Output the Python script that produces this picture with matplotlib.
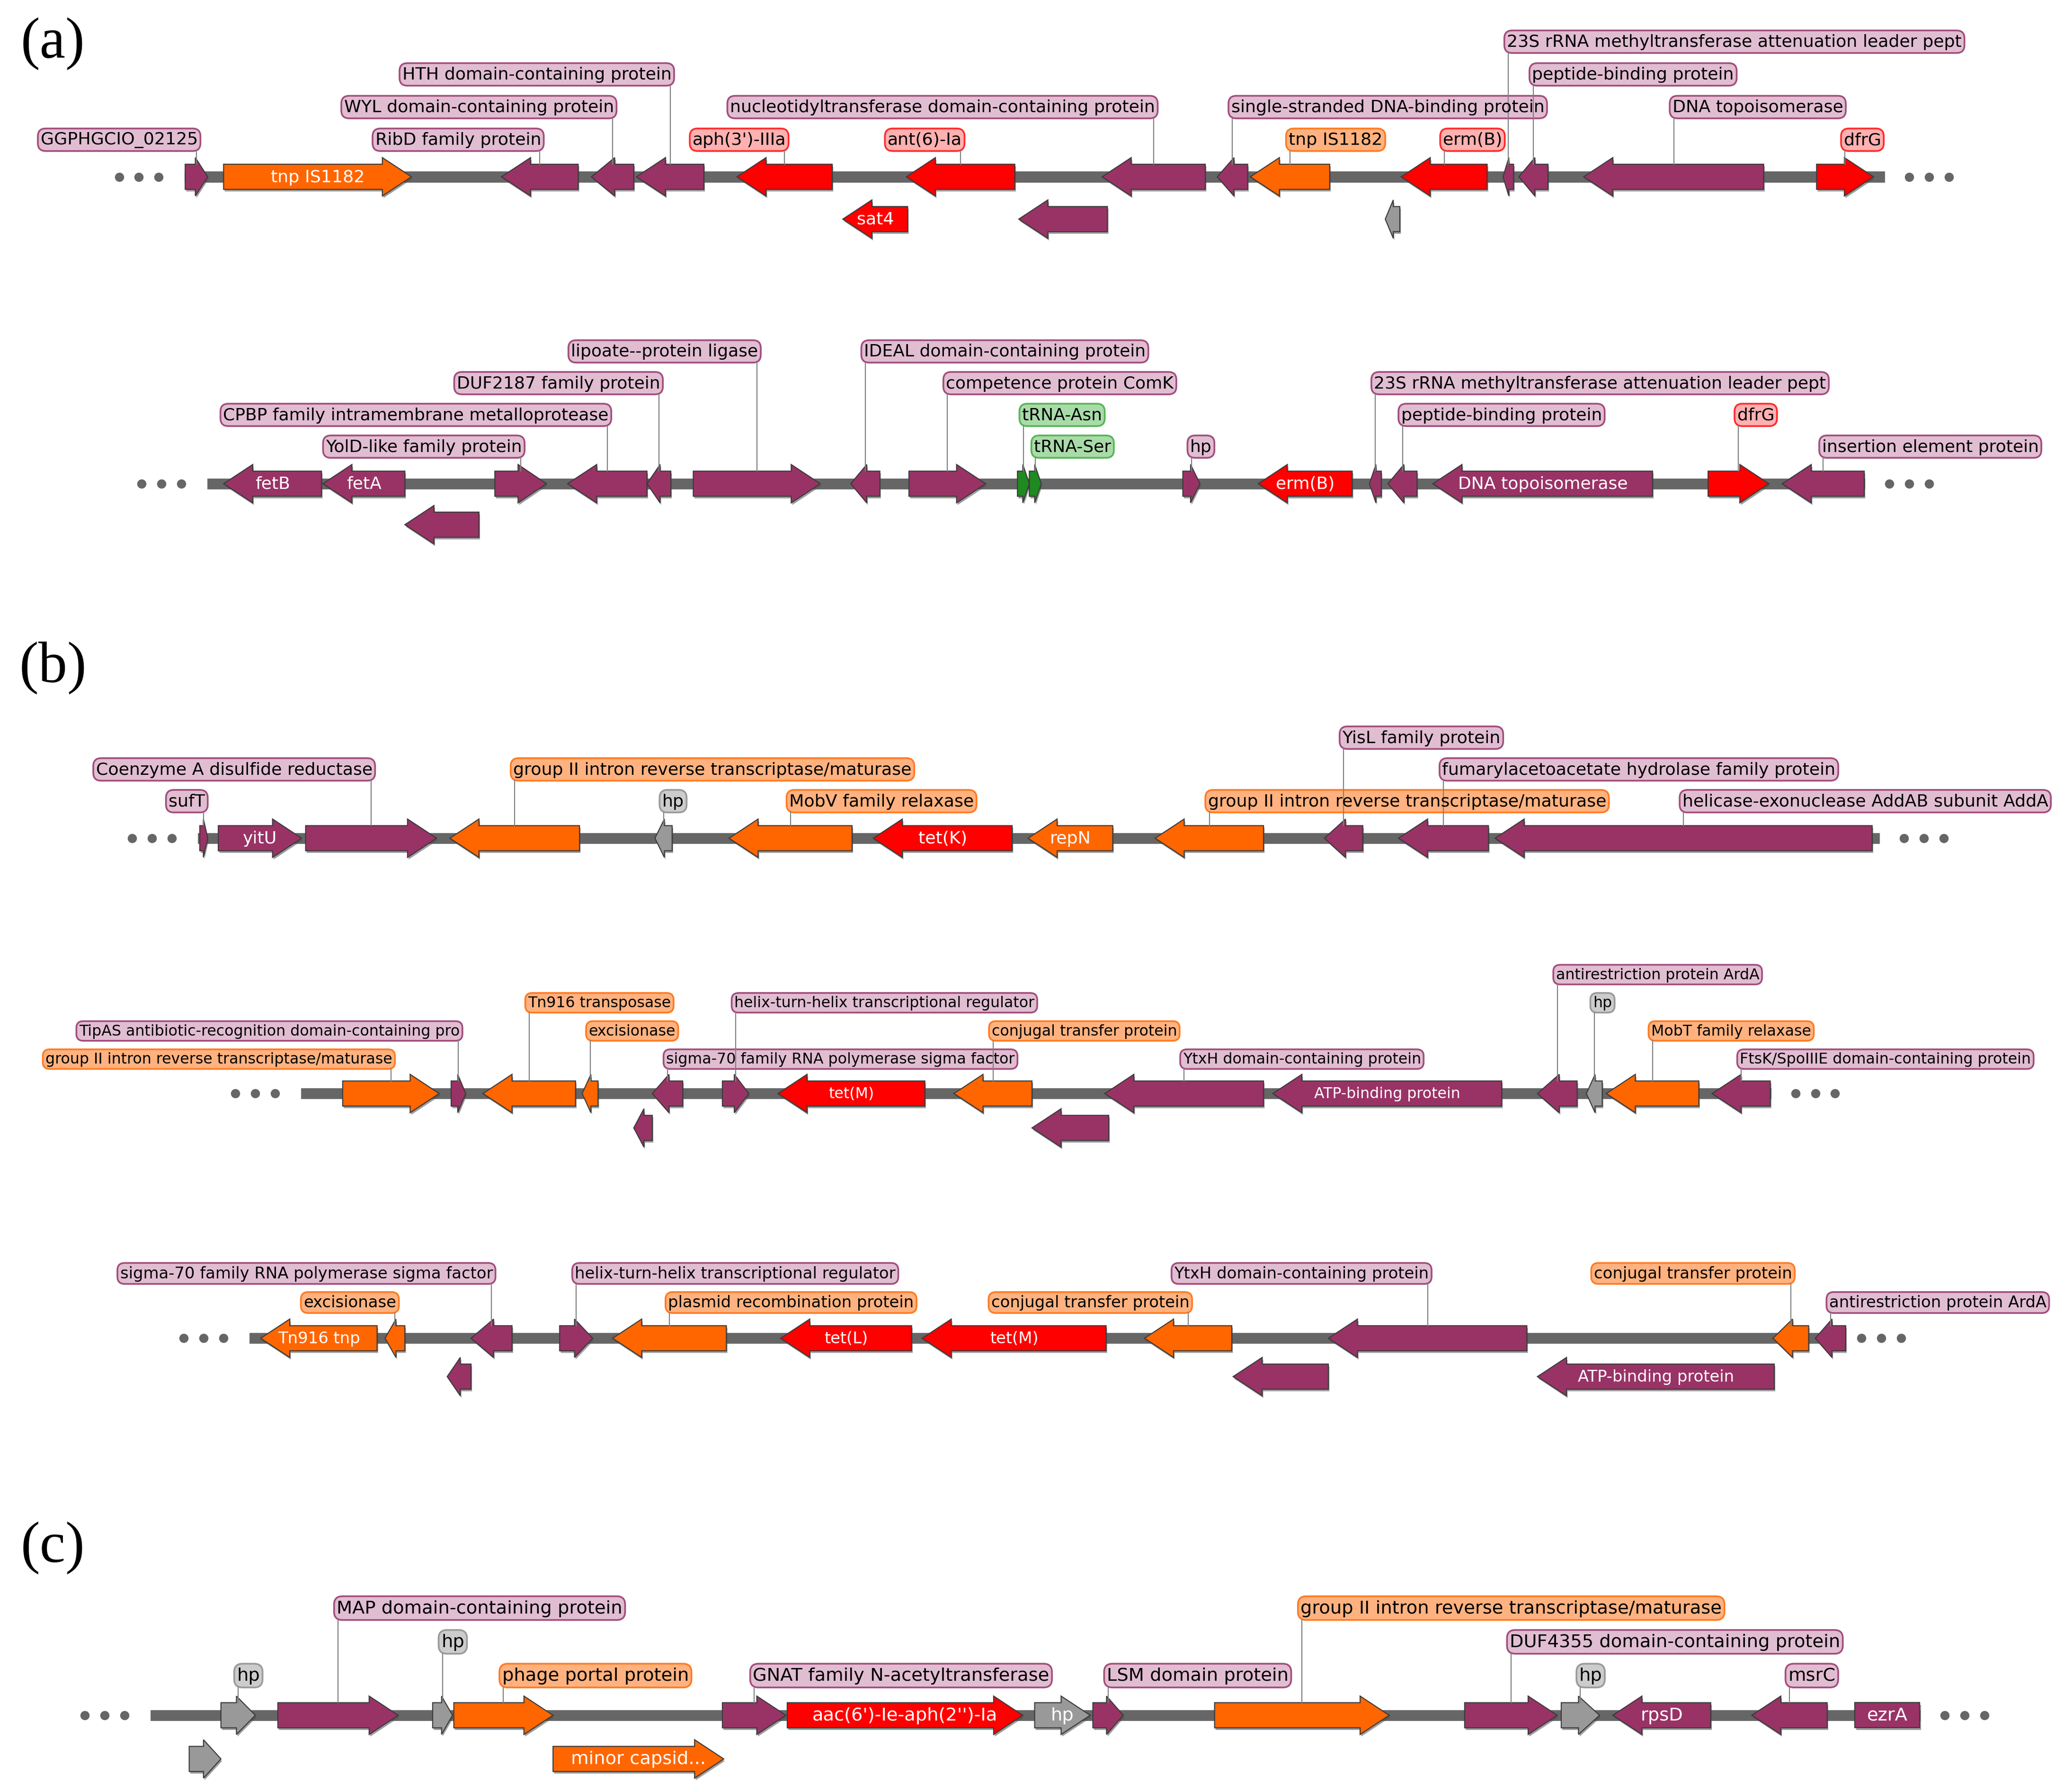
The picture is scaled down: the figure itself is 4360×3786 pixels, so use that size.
import matplotlib
matplotlib.use("Agg")
import matplotlib.pyplot as plt
from matplotlib.patches import Polygon, Rectangle, FancyBboxPatch

W, H = 1560, 1355  # drawing units across / down the page

GENE_COLOR = {"p": "#993366", "r": "#ff0000", "o": "#ff6600", "g": "#999999", "t": "#1f8a1f"}
TAG_FILL = {"p": "#e1bdd2", "r": "#ffb0b0", "o": "#ffb27f", "g": "#cccccc", "t": "#a9dba9"}
TAG_EDGE = {"p": "#a24d7c", "r": "#ff2a2a", "o": "#ff7a22", "g": "#9a9a9a", "t": "#55b555"}

# ---------- (a) upper locus
a1_locus = (140, 1424)
a1_start = [140, 169, 379, 447, 481, 557, 685, 637, 770, 833, 920, 945, 1047, 1059, 1136, 1148, 1197, 1373]
a1_end = [157, 311, 437, 479, 532, 629, 767, 686, 837, 911, 943, 1005, 1058, 1124, 1144, 1170, 1333, 1416]
a1_strand = [1, 1, -1, -1, -1, -1, -1, -1, -1, -1, -1, -1, -1, -1, -1, -1, -1, 1]
a1_kind = ["p", "o", "p", "p", "p", "r", "r", "r", "p", "p", "p", "o", "g", "r", "p", "p", "p", "r"]
a1_name = ["", "tnp IS1182", "", "", "", "", "", "sat4", "", "", "", "", "", "", "", "", "", ""]
a1_tag = ["GGPHGCIO_02125", "", "RibD family protein", "WYL domain-containing protein",
          "HTH domain-containing protein", "aph(3')-IIIa", "ant(6)-Ia", "", "",
          "nucleotidyltransferase domain-containing protein", "single-stranded DNA-binding protein",
          "tnp IS1182", "", "erm(B)", "23S rRNA methyltransferase attenuation leader pept",
          "peptide-binding protein", "DNA topoisomerase", "dfrG"]
a1_lane = [0, 0, 0, 0, 0, 0, 0, 1, 1, 0, 0, 0, 1, 0, 0, 0, 0, 0]
a1_tier = [0, 0, 0, 1, 2, 0, 0, 0, 0, 1, 1, 0, 0, 0, 3, 2, 1, 0]
a1_side = ["r", "", "r", "r", "r", "r", "r", "", "", "r", "l", "l", "", "l", "l", "l", "l", "l"]

# ---------- (a) lower locus
a2_locus = (157, 1409)
a2_start = [169, 244, 306, 374, 429, 489, 524, 643, 687, 769, 778, 894, 951, 1035, 1049, 1083, 1291, 1347]
a2_end = [243, 306, 362, 413, 489, 507, 620, 665, 745, 778, 787, 907, 1022, 1044, 1071, 1249, 1337, 1409]
a2_strand = [-1, -1, -1, 1, -1, -1, 1, -1, 1, 1, 1, 1, -1, -1, -1, -1, 1, -1]
a2_kind = ["p", "p", "p", "p", "p", "p", "p", "p", "p", "t", "t", "p", "r", "p", "p", "p", "r", "p"]
a2_name = ["fetB", "fetA", "", "", "", "", "", "", "", "", "", "", "erm(B)", "", "",
           "DNA topoisomerase", "", ""]
a2_tag = ["", "", "", "YolD-like family protein", "CPBP family intramembrane metalloprotease",
          "DUF2187 family protein", "lipoate--protein ligase", "IDEAL domain-containing protein",
          "competence protein ComK", "tRNA-Asn", "tRNA-Ser", "hp", "",
          "23S rRNA methyltransferase attenuation leader pept", "peptide-binding protein", "",
          "dfrG", "insertion element protein"]
a2_lane = [0, 0, 1, 0, 0, 0, 0, 0, 0, 0, 0, 0, 0, 0, 0, 0, 0, 0]
a2_tier = [0, 0, 0, 0, 1, 2, 3, 3, 2, 1, 0, 0, 0, 2, 1, 0, 1, 0]
a2_side = ["", "", "", "r", "r", "r", "r", "l", "l", "l", "l", "l", "", "l", "l", "", "l", "l"]

# ---------- (b) first locus
b1_locus = (150, 1420)
b1_start = [151, 165, 231, 340, 495, 551, 660, 777, 873, 1001, 1057, 1130]
b1_end = [157, 228, 330, 438, 508, 644, 765, 841, 955, 1030, 1125, 1415]
b1_strand = [1, 1, 1, -1, -1, -1, -1, -1, -1, -1, -1, -1]
b1_kind = ["p", "p", "p", "o", "g", "o", "r", "o", "o", "p", "p", "p"]
b1_name = ["", "yitU", "", "", "", "", "tet(K)", "repN", "", "", "", ""]
b1_tag = ["sufT", "", "Coenzyme A disulfide reductase", "group II intron reverse transcriptase/maturase",
          "hp", "MobV family relaxase", "", "", "group II intron reverse transcriptase/maturase",
          "YisL family protein", "fumarylacetoacetate hydrolase family protein",
          "helicase-exonuclease AddAB subunit AddA"]
b1_lane = [0] * 12
b1_tier = [0, 0, 1, 1, 0, 0, 0, 0, 0, 2, 1, 0]
b1_side = ["r", "", "r", "l", "l", "l", "", "", "l", "l", "l", "l"]

# ---------- (b) second locus
b2_locus = (228, 1338)
b2_start = [259, 341, 365, 440, 479, 493, 546, 588, 721, 780, 835, 962, 1162, 1199, 1214, 1294]
b2_end = [332, 352, 435, 452, 493, 516, 566, 699, 780, 838, 955, 1135, 1192, 1211, 1284, 1338]
b2_strand = [1, 1, -1, -1, -1, -1, 1, -1, -1, -1, -1, -1, -1, -1, -1, -1]
b2_kind = ["o", "p", "o", "o", "p", "p", "p", "r", "o", "p", "p", "p", "p", "g", "o", "p"]
b2_name = ["", "", "", "", "", "", "", "tet(M)", "", "", "", "ATP-binding protein", "", "", "", ""]
b2_tag = ["group II intron reverse transcriptase/maturase",
          "TipAS antibiotic-recognition domain-containing pro", "Tn916 transposase", "excisionase", "",
          "sigma-70 family RNA polymerase sigma factor", "helix-turn-helix transcriptional regulator", "",
          "conjugal transfer protein", "", "YtxH domain-containing protein", "",
          "antirestriction protein ArdA", "hp", "MobT family relaxase",
          "FtsK/SpoIIIE domain-containing protein"]
b2_lane = [0, 0, 0, 0, 1, 0, 0, 0, 0, 1, 0, 0, 0, 0, 0, 0]
b2_tier = [0, 1, 2, 1, 0, 0, 2, 0, 1, 0, 0, 0, 3, 2, 1, 0]
b2_side = ["r", "r", "l", "l", "", "l", "l", "", "l", "", "l", "", "l", "l", "l", "l"]

# ---------- (b) third locus
b3_locus = (189, 1388)
b3_start = [197, 291, 338, 356, 423, 463, 590, 697, 865, 932, 1004, 1162, 1340, 1372]
b3_end = [285, 306, 356, 387, 448, 549, 689, 836, 931, 1004, 1154, 1341, 1367, 1395]
b3_strand = [-1, -1, -1, -1, 1, -1, -1, -1, -1, -1, -1, -1, -1, -1]
b3_kind = ["o", "o", "p", "p", "p", "o", "r", "r", "o", "p", "p", "p", "o", "p"]
b3_name = ["Tn916 tnp", "", "", "", "", "", "tet(L)", "tet(M)", "", "", "", "ATP-binding protein", "", ""]
b3_tag = ["", "excisionase", "", "sigma-70 family RNA polymerase sigma factor",
          "helix-turn-helix transcriptional regulator", "plasmid recombination protein", "", "",
          "conjugal transfer protein", "", "YtxH domain-containing protein", "",
          "conjugal transfer protein", "antirestriction protein ArdA"]
b3_lane = [0, 0, 1, 0, 0, 0, 0, 0, 0, 1, 0, 1, 0, 0]
b3_tier = [0, 0, 0, 1, 1, 0, 0, 0, 0, 0, 1, 0, 1, 0]
b3_side = ["", "r", "", "r", "l", "l", "", "", "r", "", "r", "", "r", "l"]

# ---------- (c)
c_locus = (114, 1451)
c_start = [167, 143, 210, 327, 343, 418, 546, 595, 782, 826, 918, 1107, 1180, 1219, 1324, 1402]
c_end = [193, 167, 301, 342, 418, 547, 594, 773, 824, 849, 1050, 1177, 1209, 1293, 1381, 1451]
c_strand = [1, 1, 1, 1, 1, 1, 1, 1, 1, 1, 1, 1, 1, -1, -1, 0]
c_kind = ["g", "g", "p", "g", "o", "o", "p", "r", "g", "p", "o", "p", "g", "p", "p", "p"]
c_name = ["", "", "", "", "", "minor capsid...", "", "aac(6')-Ie-aph(2'')-Ia", "hp", "", "", "", "",
          "rpsD", "", "ezrA"]
c_tag = ["hp", "", "MAP domain-containing protein", "hp", "phage portal protein", "",
         "GNAT family N-acetyltransferase", "", "", "LSM domain protein",
         "group II intron reverse transcriptase/maturase", "DUF4355 domain-containing protein", "hp",
         "", "msrC", ""]
c_lane = [0, 1, 0, 0, 0, 1, 0, 0, 0, 0, 0, 0, 0, 0, 0, 0]
c_tier = [0, 0, 2, 1, 0, 0, 0, 0, 0, 0, 2, 1, 0, 0, 0, 0]
c_side = ["l"] * 16

rows = [
    dict(locus=a1_locus, start=a1_start, end=a1_end, strand=a1_strand, kind=a1_kind, name=a1_name,
         tag=a1_tag, lane=a1_lane, tier=a1_tier, side=a1_side, y=134, fs=13.1, t0=28, dt=24.7, low=32),
    dict(locus=a2_locus, start=a2_start, end=a2_end, strand=a2_strand, kind=a2_kind, name=a2_name,
         tag=a2_tag, lane=a2_lane, tier=a2_tier, side=a2_side, y=366, fs=13.0, t0=28, dt=24, low=31),
    dict(locus=b1_locus, start=b1_start, end=b1_end, strand=b1_strand, kind=b1_kind, name=b1_name,
         tag=b1_tag, lane=b1_lane, tier=b1_tier, side=b1_side, y=634, fs=13.1, t0=28, dt=24, low=30),
    dict(locus=b2_locus, start=b2_start, end=b2_end, strand=b2_strand, kind=b2_kind, name=b2_name,
         tag=b2_tag, lane=b2_lane, tier=b2_tier, side=b2_side, y=827, fs=11.4, t0=26, dt=21.3, low=26),
    dict(locus=b3_locus, start=b3_start, end=b3_end, strand=b3_strand, kind=b3_kind, name=b3_name,
         tag=b3_tag, lane=b3_lane, tier=b3_tier, side=b3_side, y=1012, fs=12.2, t0=27, dt=22, low=29),
    dict(locus=c_locus, start=c_start, end=c_end, strand=c_strand, kind=c_kind, name=c_name,
         tag=c_tag, lane=c_lane, tier=c_tier, side=c_side, y=1297, fs=13.8, t0=30, dt=25.5, low=33),
]

BODY = 9.5   # half height of a gene body
HEAD = 14.5  # half height of an arrow head

fig = plt.figure(figsize=(21.8, 18.935), dpi=200)
ax = fig.add_axes([0, 0, 1, 1])
ax.set_xlim(0, W)
ax.set_ylim(H, 0)
ax.axis("off")
renderer = fig.canvas.get_renderer()
px_per_unit = fig.get_figwidth() * fig.dpi / W


def gene_shape(s, e, strand, yc):
    if strand == 0:
        return [(s, yc - BODY), (e, yc - BODY), (e, yc + BODY), (s, yc + BODY)]
    head = min(22, 0.55 * (e - s))
    if strand > 0:
        k = e - head
        return [(s, yc - BODY), (k, yc - BODY), (k, yc - HEAD), (e, yc),
                (k, yc + HEAD), (k, yc + BODY), (s, yc + BODY)]
    k = s + head
    return [(e, yc - BODY), (k, yc - BODY), (k, yc - HEAD), (s, yc),
            (k, yc + HEAD), (k, yc + BODY), (e, yc + BODY)]


for row in rows:
    y0 = row["y"]
    fs = row["fs"]
    x0, x1 = row["locus"]
    ax.add_patch(Rectangle((x0, y0 - 3.6), x1 - x0, 7.2, color="#666666", zorder=1))
    ax.plot([x0 - 20, x0 - 35, x0 - 50], [y0] * 3, "o", color="#666666", ms=6, zorder=1)
    ax.plot([x1 + 19, x1 + 34, x1 + 49], [y0] * 3, "o", color="#666666", ms=6, zorder=1)

    for i in range(len(row["start"])):
        s, e = row["start"][i], row["end"][i]
        kind = row["kind"][i]
        yc = y0 + row["low"] * row["lane"][i]
        pts = gene_shape(s, e, row["strand"][i], yc)
        shadow = [(px + 0.8, py + 1.6) for px, py in pts]
        ax.add_patch(Polygon(shadow, closed=True, color="#4d4d4d", alpha=0.55, lw=0, zorder=2))
        ax.add_patch(Polygon(pts, closed=True, fc=GENE_COLOR[kind], ec="#3a3a3a", lw=0.8, zorder=2))
        if row["name"][i]:
            ax.text((s + e) / 2, yc, row["name"][i], color="white", fontsize=fs,
                    ha="center", va="center", zorder=5)

        tag = row["tag"][i]
        if not tag:
            continue
        lead = (s + e) / 2
        h = 1.3 * fs
        yb = y0 - row["t0"] - row["dt"] * row["tier"][i]
        t = ax.text(0, yb, tag, color="black", fontsize=fs, ha="left", va="center", zorder=6)
        w = t.get_window_extent(renderer).width / px_per_unit
        if row["side"][i] == "r":
            bx = lead + 3 - (w + 4)
        else:
            bx = lead - 3
        t.set_position((bx + 2, yb))
        ax.add_patch(FancyBboxPatch((bx, yb - h / 2), w + 4, h,
                                    boxstyle="round,pad=0,rounding_size=%.2f" % (h * 0.35),
                                    fc=TAG_FILL[kind], ec=TAG_EDGE[kind], lw=1.3, zorder=4))
        ax.plot([lead, lead], [yb + h / 2, y0 - BODY], color="#808080", lw=0.8, zorder=4.5)

for letter, ly in [("(a)", 33), ("(b)", 505), ("(c)", 1170)]:
    ax.text(40, ly, letter, family=["Liberation Serif", "DejaVu Serif"], fontsize=44,
            ha="center", va="center")

fig.savefig("out.png", dpi=200)
